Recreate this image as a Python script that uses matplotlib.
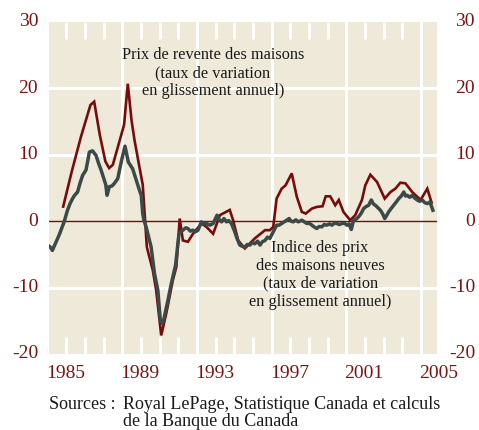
import matplotlib.pyplot as plt

# Prix de revente (Royal LePage), roughly quarterly
resale_years = [1984.84, 1985.3, 1985.8, 1986.3, 1986.5, 1986.8, 1987.1, 1987.3, 1987.5,
                1987.8, 1988.1, 1988.3, 1988.5, 1988.66, 1988.92, 1989.1, 1989.32, 1989.64,
                1989.82, 1990.09, 1990.36, 1990.71, 1990.9, 1991.08, 1991.25, 1991.52,
                1991.79, 1992.24, 1992.51, 1992.87, 1993.23, 1993.76, 1993.94, 1994.21,
                1994.57, 1995.1, 1995.65, 1995.91, 1996.09, 1996.27, 1996.54, 1996.75,
                1997.08, 1997.35, 1997.62, 1997.83, 1998.16, 1998.42, 1998.73, 1998.9,
                1999.14, 1999.41, 1999.6, 1999.85, 2000.21, 2000.48, 2000.84, 2001.02,
                2001.29, 2001.65, 2002.06, 2002.37, 2002.63, 2002.9, 2003.17, 2003.53,
                2003.98, 2004.34, 2004.57]
resale_vals = [2.2, 7.5, 12.8, 17.5, 18.0, 13.0, 9.0, 8.0, 8.5,
               11.5, 14.5, 20.7, 15.2, 12.2, 8.2, 5.5, -3.9, -7.4,
               -10.4, -17.2, -13.9, -8.9, -6.9, 0.4, -2.9, -3.1,
               -1.9, -0.35, -0.85, -1.9, 0.9, 1.7, 0.15, -2.9,
               -4.1, -2.6, -1.35, -1.35, -0.85, 3.4, 4.9, 5.4,
               7.2, 3.7, 1.4, 1.15, 1.9, 2.15, 2.25, 3.75,
               3.75, 2.4, 3.2, 1.4, 0.15, 0.9, 3.2, 5.4,
               7.0, 5.9, 3.4, 4.4, 4.9, 5.8, 5.7, 4.4,
               3.2, 4.9, 2.8]

# Indice des prix des maisons neuves, monthly-ish
new_years = [1984.0, 1984.15, 1984.26, 1984.45, 1984.62, 1984.89, 1985.07, 1985.2, 1985.34,
             1985.45, 1985.61, 1985.75, 1985.88, 1986.06, 1986.15, 1986.24, 1986.41, 1986.6,
             1986.75, 1986.87, 1987.04, 1987.12, 1987.19, 1987.31, 1987.45, 1987.58, 1987.76,
             1987.97, 1988.15, 1988.25, 1988.33, 1988.56, 1988.75, 1988.92, 1989.02, 1989.1,
             1989.16, 1989.28, 1989.42, 1989.55, 1989.73, 1989.91, 1990.04, 1990.13, 1990.22,
             1990.45, 1990.63, 1990.86, 1991.04, 1991.15, 1991.25, 1991.4, 1991.52, 1991.65,
             1991.79, 1991.92, 1992.06, 1992.24, 1992.35, 1992.51, 1992.7, 1992.87, 1993.08,
             1993.2, 1993.32, 1993.45, 1993.59, 1993.7, 1993.85, 1994.03, 1994.15, 1994.3,
             1994.45, 1994.57, 1994.7, 1994.84, 1994.97, 1995.1, 1995.25, 1995.38, 1995.5,
             1995.65, 1995.78, 1995.91, 1996.09, 1996.27, 1996.4, 1996.54, 1996.68, 1996.81,
             1996.94, 1997.05, 1997.16, 1997.3, 1997.43, 1997.62, 1997.75, 1997.89, 1998.02,
             1998.16, 1998.3, 1998.42, 1998.55, 1998.69, 1998.82, 1998.96, 1999.1, 1999.23,
             1999.36, 1999.5, 1999.63, 1999.77, 1999.9, 2000.04, 2000.15, 2000.27, 2000.39,
             2000.52, 2000.66, 2000.8, 2000.93, 2001.06, 2001.2, 2001.34, 2001.45, 2001.56,
             2001.7, 2001.83, 2001.95, 2002.06, 2002.17, 2002.27, 2002.4, 2002.54, 2002.68,
             2002.81, 2002.95, 2003.08, 2003.17, 2003.26, 2003.4, 2003.53, 2003.66, 2003.8,
             2003.93, 2004.07, 2004.2, 2004.34, 2004.48, 2004.64]
new_vals = [-3.6, -3.9, -4.4, -3.2, -2.1, -0.1, 1.65, 2.6, 3.4,
            3.9, 4.4, 5.8, 6.9, 7.7, 9.0, 10.4, 10.6, 9.9,
            8.6, 7.7, 6.2, 5.5, 3.9, 5.2, 5.3, 5.7, 6.4,
            9.2, 11.3, 10.0, 8.9, 7.9, 6.2, 4.7, 3.9, 1.15,
            0.15, -0.85, -2.4, -3.9, -7.9, -10.4, -14.9, -15.4, -14.9,
            -11.9, -9.4, -6.6, -1.9, -1.6, -1.35, -1.0, -1.1, -1.5,
            -1.35, -1.6, -1.35, -0.1, -0.4, -0.35, -0.6, -0.35, 0.9,
            0.2, -0.1, 0.4, -0.1, 0.1, -0.35, -1.6, -2.6, -3.6,
            -3.8, -3.9, -3.5, -3.6, -3.2, -3.4, -3.0, -3.6, -3.1,
            -2.9, -2.4, -2.6, -1.6, -0.6, -0.6, -0.35, -0.1, 0.15,
            0.4, 0.0, -0.1, 0.2, -0.1, 0.15, -0.1, -0.35, -0.3,
            -0.6, -0.9, -1.1, -0.8, -0.85, -0.5, -0.6, -0.4, -0.6,
            -0.3, -0.35, -0.5, -0.35, -0.3, -0.6, -0.4, -1.25, 0.15,
            0.3, 0.65, 1.2, 1.9, 2.2, 2.4, 3.2, 2.6, 2.4,
            2.0, 1.65, 1.1, 0.4, 0.9, 1.4, 1.9, 2.4, 2.9,
            3.4, 3.8, 4.4, 3.8, 3.9, 3.6, 3.9, 3.5, 3.2,
            3.0, 3.2, 2.8, 2.65, 2.9, 1.65]

y_ticks = [-20, -10, 0, 10, 20, 30]
year_labels = [1985, 1989, 1993, 1997, 2001, 2005]
grid_years = [1988, 1992, 1996, 2000, 2004]

RED = '#760d0d'
GREY = '#3b4947'
BG = '#eee9d8'
LABEL = '#7a1414'
plt.rcParams['font.family'] = ['Liberation Serif', 'DejaVu Serif']

fig = plt.figure(figsize=(4.79, 4.30), dpi=100)
ax = fig.add_axes([49 / 479, 76 / 430, 388 / 479, 332 / 430])
ax.set_facecolor(BG)
for s in ax.spines.values():
    s.set_visible(False)

ax.set_xlim(1984.08, 2004.86)
ax.set_ylim(-20, 30)

# grid
for g in [-10, 10, 20]:
    ax.axhline(g, color='white', lw=2.2, zorder=1)
for g in grid_years:
    ax.axvline(g, color='white', lw=2.2, zorder=1)
ax.axhline(0, color=RED, lw=1.0, zorder=2)

# short white year ticks top and bottom
ax.set_xticks(range(1985, 2005))
ax.tick_params(axis='x', which='major', direction='in', length=12, width=2,
               color='white', top=True, bottom=True, labelbottom=False)
ax.set_yticks([])

ax.plot(resale_years, resale_vals, color=RED, lw=1.9, zorder=3, solid_joinstyle='miter')
ax.plot(new_years, new_vals, color=GREY, lw=2.5, zorder=4)

ytr = ax.get_yaxis_transform()
for v in y_ticks:
    ax.text(-0.028, v, str(v), transform=ytr, ha='right', va='center',
            fontsize=14, color=LABEL, clip_on=False)
    ax.text(1.098, v, str(v), transform=ytr, ha='right', va='center',
            fontsize=14, color=LABEL, clip_on=False)

xtr = ax.get_xaxis_transform()
for yr in year_labels:
    ax.text(yr - 0.05, -0.058, str(yr), transform=xtr, ha='center', va='center',
            fontsize=14, color=LABEL, clip_on=False)

ax.text(1992.85, 22.3, 'Prix de revente des maisons\n(taux de variation\nen glissement annuel)',
        ha='center', va='center', fontsize=11.7, color='#1a1a1a', linespacing=1.15, zorder=5)
ax.text(1998.6, -8.1, 'Indice des prix\ndes maisons neuves\n(taux de variation\nen glissement annuel)',
        ha='center', va='center', fontsize=11.7, color='#1a1a1a', linespacing=1.15, zorder=5)

fig.text(49 / 479, 1 - 396 / 430, 'Sources :', ha='left', va='top', fontsize=13, color='#1a1a1a')
fig.text(123 / 479, 1 - 396 / 430, 'Royal LePage, Statistique Canada et calculs\nde la Banque du Canada',
         ha='left', va='top', fontsize=13, color='#1a1a1a', linespacing=0.98)

fig.savefig('out.png', dpi=100)
